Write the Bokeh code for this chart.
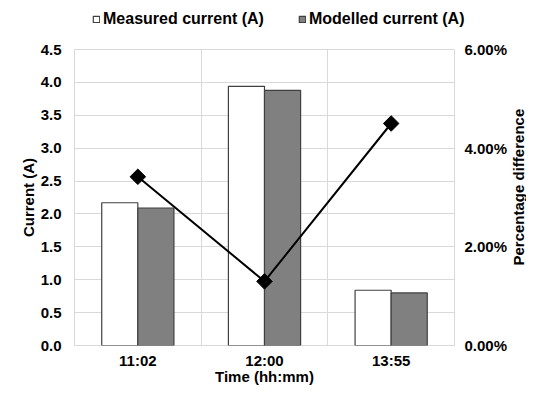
import math
from bokeh.plotting import figure
from bokeh.layouts import row, column
from bokeh.models import (Range1d, LinearAxis, FixedTicker, NumeralTickFormatter,
                          ColumnDataSource, Legend, LegendItem)
from bokeh.core.properties import value
from bokeh.transform import dodge
from bokeh.embed import file_html
from bokeh.resources import INLINE

categories = ["11:02", "12:00", "13:55"]
measured = [2.17, 3.94, 0.84]
modelled = [2.09, 3.88, 0.80]
pct_diff = [0.0342, 0.0130, 0.0450]
y_ticks = [0.0, 0.5, 1.0, 1.5, 2.0, 2.5, 3.0, 3.5, 4.0, 4.5]
pct_ticks = [0.0, 0.02, 0.04, 0.06]
series_names = ["Measured current (A)", "Modelled current (A)"]
right_title = "Percentage difference"

FONT = "Liberation Sans"
MEAS_STYLE = dict(fill_color="white", line_color="#404040", line_width=1.2)
MOD_STYLE = dict(fill_color="#808080", line_color="#404040", line_width=1.2)

xs = [i + 0.5 for i in range(len(categories))]
src = ColumnDataSource(dict(x=xs, measured=measured, modelled=modelled, pct=pct_diff))

# ---------------- main chart ----------------
p = figure(width=510, height=357, output_backend="svg", toolbar_location=None,
           x_range=Range1d(0, len(categories)), y_range=Range1d(0, 4.5),
           min_border_left=74, min_border_right=52, min_border_top=19, min_border_bottom=42)
p.extra_y_ranges = {"pct": Range1d(0, 0.06)}

bw = 0.285
p.vbar(x=dodge("x", -bw / 2, range=p.x_range), top="measured", width=bw, bottom=0,
       source=src, **MEAS_STYLE)
p.vbar(x=dodge("x", bw / 2, range=p.x_range), top="modelled", width=bw, bottom=0,
       source=src, **MOD_STYLE)
p.line(x="x", y="pct", source=src, y_range_name="pct", line_color="black", line_width=2)
p.scatter(x="x", y="pct", source=src, y_range_name="pct", marker="square", angle=0.7854,
          size=11, fill_color="black", line_color="black")

p.xaxis.ticker = FixedTicker(ticks=xs)
p.xaxis.major_label_overrides = {x: c for x, c in zip(xs, categories)}
p.xaxis.axis_label = "Time (hh:mm)"
p.xaxis.major_label_standoff = 6
p.xaxis.axis_label_standoff = -4

p.yaxis.ticker = FixedTicker(ticks=y_ticks)
p.yaxis.formatter = NumeralTickFormatter(format="0.0")
p.yaxis.axis_label = "Current (A)"
p.yaxis.major_label_standoff = 13
p.yaxis.axis_label_standoff = 1

ax2 = LinearAxis(y_range_name="pct", ticker=FixedTicker(ticks=pct_ticks),
                 formatter=NumeralTickFormatter(format="0.00%"))
ax2.major_label_standoff = 10
p.add_layout(ax2, "right")

for ax in [p.xaxis[0], p.yaxis[0], ax2]:
    ax.axis_line_color = None
    ax.major_tick_line_color = None
    ax.minor_tick_line_color = None
    ax.major_tick_out = 0
    ax.major_tick_in = 0
    ax.minor_tick_out = 0
    ax.minor_tick_in = 0
    ax.major_label_text_font = FONT
    ax.major_label_text_font_style = "bold"
    ax.major_label_text_font_size = "15px"
    ax.major_label_text_color = "black"
    ax.axis_label_text_font = FONT
    ax.axis_label_text_font_style = "bold"
    ax.axis_label_text_font_size = "15px"
    ax.axis_label_text_color = "black"

p.xgrid.ticker = FixedTicker(ticks=[1, 2])
p.xgrid.grid_line_color = "#d9d9d9"
p.ygrid.grid_line_color = "#d9d9d9"
p.outline_line_color = "#d9d9d9"
p.background_fill_color = "white"
p.border_fill_color = "white"

# ---------------- legend strip on top ----------------
# the series are re-used here, but the strip's y-range lies above every value,
# so only the legend entries are visible
p_top = figure(width=526, height=30, output_backend="svg", toolbar_location=None,
               x_range=Range1d(0, len(categories)), y_range=Range1d(10, 11),
               x_axis_type=None, y_axis_type=None,
               min_border_left=0, min_border_right=0, min_border_top=0, min_border_bottom=0)
p_top.outline_line_color = None
p_top.grid.visible = False
p_top.background_fill_color = "white"
lr1 = p_top.vbar(x="x", top="measured", bottom=0, width=bw, source=src, **MEAS_STYLE)
lr2 = p_top.vbar(x="x", top="modelled", bottom=0, width=bw, source=src, **MOD_STYLE)
legend = Legend(items=[LegendItem(label=series_names[0], renderers=[lr1]),
                       LegendItem(label=series_names[1], renderers=[lr2])],
                location=(92, 2), orientation="horizontal",
                glyph_width=8, glyph_height=8, label_standoff=3, spacing=34,
                padding=0, margin=0, label_height=15,
                label_text_font=FONT, label_text_font_style="bold",
                label_text_font_size="16px", label_text_color="black",
                border_line_color=None, background_fill_alpha=0)
p_top.add_layout(legend, "center")

# ---------------- right-hand axis title strip ----------------
p2 = figure(width=16, height=357, output_backend="svg", toolbar_location=None,
            x_range=Range1d(0, 1), y_range=Range1d(0, 1),
            x_axis_type=None, y_axis_type=None,
            min_border_left=0, min_border_right=0, min_border_top=0, min_border_bottom=0)
p2.outline_line_color = None
p2.grid.visible = False
p2.text(x=[0.5], y=[0.535], text=[right_title], angle=math.pi / 2,
        text_align="center", text_baseline="middle", text_font=value(FONT),
        text_font_style="bold", text_font_size="15px", text_color="black")

layout = column(p_top, row(p, p2, spacing=0), spacing=0)
open("out.html", "w").write(file_html(layout, INLINE))
